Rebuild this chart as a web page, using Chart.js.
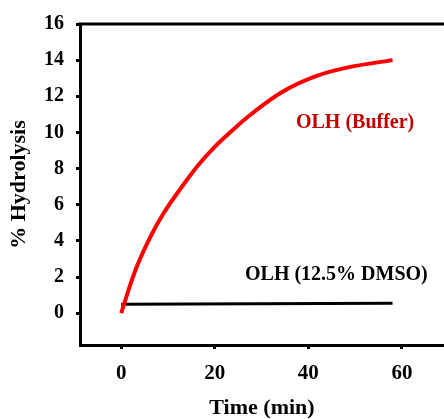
<!DOCTYPE html>
<html>
<head>
<meta charset="utf-8">
<script src="https://cdn.jsdelivr.net/npm/chart.js@4.4.1/dist/chart.umd.min.js"></script>
<style>
    html, body { margin: 0; padding: 0; background: #fff; }
    canvas { display: block; }
</style>
</head>
<body>
<canvas id="hydrolysis-chart" width="444" height="419"></canvas>
<script>
// Hydrolysis over time (min -> %)
const bufferTime = [0, 3, 6, 9, 13, 16.5, 20, 23.5, 27.5, 34.5, 41.5, 48.5, 58];
const bufferHydrolysis = [0, 2.35, 4.1, 5.5, 7.0, 8.2, 9.2, 10.05, 10.95, 12.25, 13.1, 13.6, 14.0];
const dmsoTime = [0, 58];
const dmsoHydrolysis = [0.5, 0.55];

const seriesNames = ['OLH (Buffer)', 'OLH (12.5% DMSO)'];
const xTicks = [0, 20, 40, 60];
const yTicks = [0, 2, 4, 6, 8, 10, 12, 14, 16];

const FONT = '"Liberation Serif", "Times New Roman", serif';
const toPoints = (xs, ys) => xs.map((x, i) => ({ x: x, y: ys[i] }));

// Top frame line and the in-plot series labels
const framePlugin = {
    id: 'framePlugin',
    afterDraw(chart) {
        const { ctx, chartArea, scales } = chart;
        ctx.save();
        ctx.strokeStyle = '#000';
        ctx.lineWidth = 3;
        ctx.beginPath();
        ctx.moveTo(chartArea.left - 1.5, chartArea.top);
        ctx.lineTo(chart.width, chartArea.top);
        ctx.stroke();

        ctx.font = 'bold 20px ' + FONT;
        ctx.textAlign = 'center';
        ctx.textBaseline = 'middle';
        chart.data.datasets.forEach(ds => {
            ctx.fillStyle = ds.labelColor;
            ctx.fillText(ds.label, scales.x.getPixelForValue(ds.labelAt[0]), scales.y.getPixelForValue(ds.labelAt[1]));
        });
        ctx.restore();
    }
};

new Chart(document.getElementById('hydrolysis-chart'), {
    type: 'line',
    data: {
        datasets: [
            {
                label: seriesNames[0],
                data: toPoints(bufferTime, bufferHydrolysis),
                borderColor: '#ff0000',
                borderWidth: 4,
                pointRadius: 0,
                tension: 0.4,
                labelColor: '#c00000',
                labelAt: [50, 10.55]
            },
            {
                label: seriesNames[1],
                data: toPoints(dmsoTime, dmsoHydrolysis),
                borderColor: '#000000',
                borderWidth: 3,
                pointRadius: 0,
                labelColor: '#000000',
                labelAt: [46, 2.1]
            }
        ]
    },
    options: {
        responsive: false,
        animation: false,
        devicePixelRatio: 1,
        layout: { padding: { top: 22, right: 0, bottom: 0, left: 0 } },
        plugins: {
            legend: { display: false },
            tooltip: { enabled: false }
        },
        scales: {
            x: {
                type: 'linear',
                min: -8.8,
                max: 69,
                afterFit: (scale) => { scale.height = 74; },
                afterBuildTicks: (scale) => { scale.ticks = xTicks.map(v => ({ value: v })); },
                grid: { drawOnChartArea: false, tickLength: 4, tickWidth: 3, color: '#000' },
                border: { color: '#000', width: 3 },
                ticks: {
                    color: '#000',
                    padding: 12,
                    maxRotation: 0,
                    font: { family: FONT, size: 21, weight: 'bold' }
                },
                title: {
                    display: true,
                    text: 'Time (min)',
                    color: '#000',
                    padding: { top: 0, bottom: 0 },
                    font: { family: FONT, size: 22, weight: 'bold', lineHeight: 1 }
                }
            },
            y: {
                type: 'linear',
                min: -1.76,
                max: 16,
                afterFit: (scale) => { scale.width = 80; },
                afterBuildTicks: (scale) => { scale.ticks = yTicks.map(v => ({ value: v })); },
                grid: { drawOnChartArea: false, tickLength: 4, tickWidth: 3, color: '#000' },
                border: { color: '#000', width: 3 },
                ticks: {
                    color: '#000',
                    padding: 12,
                    font: { family: FONT, size: 20, weight: 'bold' }
                },
                title: {
                    display: true,
                    text: '% Hydrolysis',
                    color: '#000',
                    padding: { top: 8, bottom: 0 },
                    font: { family: FONT, size: 22, weight: 'bold', lineHeight: 1 }
                }
            }
        }
    },
    plugins: [framePlugin]
});
</script>
</body>
</html>
